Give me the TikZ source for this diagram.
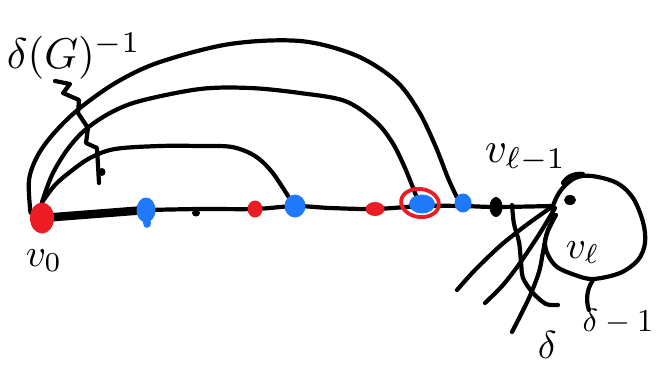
\documentclass[tikz,border=0pt]{standalone}
\usetikzlibrary{shapes.geometric,backgrounds}
\definecolor{inkred}{RGB}{236,28,36}
\definecolor{inkblue}{RGB}{32,120,250}

\begin{document}
\begin{tikzpicture}[x=1pt,y=-1pt,
  ink/.style={line width=4.2pt, line cap=round, line join=round},
  blob/.style={ellipse, inner sep=0pt, draw=none},
  redblob/.style={blob, fill=inkred},
  blueblob/.style={blob, fill=inkblue},
  dotk/.style={blob, fill=black},
  lbl/.style={inner sep=0pt, anchor=base west, font=\fontsize{10}{12}\selectfont},
  huge/.style={scale=4.3},
  big/.style={scale=3.9},
  mid/.style={scale=3.2}]
\useasboundingbox (0,0) rectangle (666,370);

% vertices along the path
\node[redblob,  minimum width=24pt, minimum height=31pt] (v0) at (42,218) {};
\node[blueblob, minimum width=19pt, minimum height=25pt] (b1) at (146,210) {};
\node[blueblob, minimum width=8pt,  minimum height=10pt] (b1d) at (147,223) {};
\node[dotk,     minimum width=8pt,  minimum height=7pt]  (k1) at (196,213) {};
\node[redblob,  minimum width=15pt, minimum height=17pt] (r1) at (255,209) {};
\node[blueblob, minimum width=21pt, minimum height=23pt] (b2) at (295,206) {};
\node[redblob,  minimum width=19pt, minimum height=14pt] (r2) at (375,209) {};
\node[blueblob, minimum width=26pt, minimum height=19pt] (b3) at (422,204) {};
\node[ellipse, draw=inkred, line width=3.8pt, minimum width=38pt, minimum height=28pt,
      rotate=-8] (ring) at (420,203) {};
\node[blueblob, minimum width=17pt, minimum height=19pt] (b4) at (463,203) {};
\node[dotk,     minimum width=13pt, minimum height=20pt] (k2) at (496,207) {};
\node[dotk,     minimum width=12pt, minimum height=10pt] (kin) at (570,200) {};
\node[dotk,     minimum width=7pt,  minimum height=8pt]  (tick) at (102,172) {};
\coordinate (tip) at (553,206);

\begin{scope}[on background layer]
  % the path v0 ... v_{l-1}
  \draw[line width=8.5pt, line cap=round] (v0.center) -- (b1.center);
  \draw[ink] plot[smooth, tension=0.5] coordinates
    {(b1.center) (200,209) (r1.center) (b2.center) (330,208) (r2.center)
     (422,206) (463,206) (k2.center) (tip)};

  % edges from v0 back to the path
  \draw[ink] plot[smooth, tension=0.55] coordinates
    {(v0.155) (29,180) (38,155) (55,132) (80,108) (117,82) (160,62) (230,44) (300,41)
     (355,55) (395,80) (418,110) (435,145) (448,178) (b4.135)};
  \draw[ink] plot[smooth, tension=0.55] coordinates
    {(v0.north) (52,175) (67,150) (85,130) (110,113) (140,101) (200,89) (250,88)
     (300,93) (345,101) (375,121) (392,142) (405,168) (b3.125)};
  \draw[ink] plot[smooth, tension=0.55] coordinates
    {(v0.north) (55,185) (70,172) (90,158) (115,149) (160,146) (200,146)
     (232,147) (255,156) (272,172) (b2.125)};
\end{scope}

% marker across the three edges
\draw[ink] (55,81) -- (70,84) -- (63,93) -- (79,100) -- (78,113) -- (88,128)
  -- (86,143) -- (97,148) -- (99,183);

% the vertex v_l and its neighbourhood
\draw[ink] plot[smooth cycle, tension=0.55] coordinates
  {(tip) (561,190) (575,178) (592,176) (617,183) (633,198) (643,222) (645,243)
   (638,260) (620,273) (593,279) (575,275) (557,267) (548,255) (545,243)
   (548,230) (553,218)};
\draw[ink] (563,183) .. controls (567,176) and (575,173) .. (583,174);

% edges leaving v_l
\coordinate (f1) at (457,290);
\coordinate (f2) at (485,303);
\coordinate (f3) at (512,332);
\coordinate (dstart) at (512,205);
\coordinate (dend) at (558,305);
\draw[ink] plot[smooth, tension=0.5] coordinates {(tip) (525,226) (500,246) (475,270) (f1)};
\draw[ink] plot[smooth, tension=0.5] coordinates {(555,208) (540,233) (520,263) (503,285) (f2)};
\draw[ink] plot[smooth, tension=0.5] coordinates {(556,215) (547,233) (543,252) (539,272) (529,298) (f3)};
\draw[ink] plot[smooth, tension=0.5] coordinates
  {(dstart) (514,224) (519,242) (521,262) (523,278) (533,293) (546,304) (dend)};

% labels
\node[lbl, huge] (lg) at (6,68) {$\delta(G)^{-1}$};
\node[lbl, big] (l0) at (25,266) {$v_0$};
\node[lbl, huge] (llm) at (484,162) {$v_{\ell-1}$};
\node[lbl, big] (ll) at (565,258) {$v_\ell$};
\node[lbl, big] (ld) at (537,358) {$\delta$};
\node[lbl, mid] (ldm) at (582,331) {$\delta-1$};
\draw[ink] (593,280) .. controls (586,290) and (586,302) .. (589,310);
\end{tikzpicture}
\end{document}
